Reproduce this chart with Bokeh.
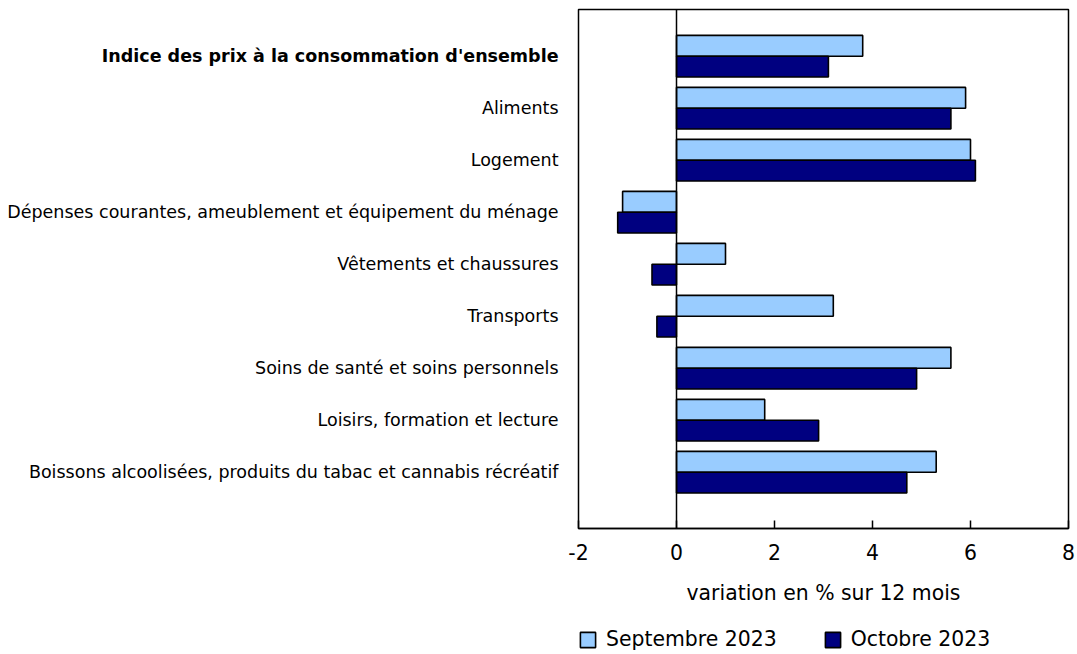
from bokeh.plotting import figure
from bokeh.models import (ColumnDataSource, Range1d, FixedTicker, Span, Legend)
from bokeh.layouts import row, column
from bokeh.transform import dodge
from bokeh.core.properties import value
from bokeh.embed import file_html
from bokeh.resources import INLINE

categories = [
    "Indice des prix à la consommation d'ensemble",
    "Aliments",
    "Logement",
    "Dépenses courantes, ameublement et équipement du ménage",
    "Vêtements et chaussures",
    "Transports",
    "Soins de santé et soins personnels",
    "Loisirs, formation et lecture",
    "Boissons alcoolisées, produits du tabac et cannabis récréatif",
]
label_styles = ["bold", "normal", "normal", "normal", "normal", "normal", "normal", "normal", "normal"]
septembre_2023 = [3.8, 5.9, 6.0, -1.1, 1.0, 3.2, 5.6, 1.8, 5.3]
octobre_2023 = [3.1, 5.6, 6.1, -1.2, -0.5, -0.4, 4.9, 2.9, 4.7]
x_ticks = [-2, 0, 2, 4, 6, 8]
series_names = ["Septembre 2023", "Octobre 2023"]
series_colors = ["#99CCFF", "#000080"]
x_title = "variation en % sur 12 mois"

FONT = "DejaVu Sans"
positions = list(range(len(categories)))
src = ColumnDataSource(dict(y=positions, cat=categories, style=label_styles,
                            sep=septembre_2023, oct=octobre_2023))

W, H = 1077, 654
H_MAIN = 615
LAB_W = 560          # width of the category label strip
FRAME_LEFT = 578     # x of the plot frame's left edge
TOP, RIGHT = 9, 9
BOTTOM = H_MAIN - TOP - 519
y_range = Range1d(len(categories) - 1 + 1.083, -0.898)


def bare(fig):
    fig.xgrid.visible = False
    fig.ygrid.visible = False
    fig.background_fill_color = "white"
    fig.border_fill_color = "white"


# ---- category label strip (left) ----
lab = figure(width=LAB_W, height=H_MAIN, x_range=Range1d(0, LAB_W), y_range=y_range,
             output_backend="svg", toolbar_location=None,
             x_axis_location=None, y_axis_location=None,
             min_border_left=0, min_border_right=0, min_border_top=TOP, min_border_bottom=BOTTOM)
bare(lab)
lab.outline_line_color = None
lab.text(x=value(FRAME_LEFT - 20), y="y", text="cat", source=src,
         text_align="right", text_baseline="middle",
         text_font=value(FONT), text_font_size=value("17.5px"),
         text_font_style="style", text_color="black")

# ---- main chart ----
p = figure(width=W - LAB_W, height=H_MAIN, x_range=Range1d(-2, 8), y_range=y_range,
           output_backend="svg", toolbar_location=None, y_axis_location=None,
           min_border_left=FRAME_LEFT - LAB_W, min_border_right=RIGHT,
           min_border_top=TOP, min_border_bottom=BOTTOM)
bare(p)
p.outline_line_color = "black"
p.outline_line_width = 1.5

bar_style = dict(height=0.4, line_color="black", line_width=1.6, source=src)
r1 = p.hbar(y=dodge("y", -0.2, range=y_range), left=0, right="sep",
            fill_color=series_colors[0], **bar_style)
r2 = p.hbar(y=dodge("y", 0.2, range=y_range), left=0, right="oct",
            fill_color=series_colors[1], **bar_style)

p.add_layout(Span(location=0, dimension="height", line_color="black", line_width=1.5))

xa = p.xaxis[0]
xa.ticker = FixedTicker(ticks=x_ticks)
xa.major_label_overrides = {t: str(t) for t in x_ticks}
xa.minor_tick_line_color = None
xa.major_tick_in = 8
xa.major_tick_out = 0
xa.major_tick_line_color = "black"
xa.major_tick_line_width = 1.5
xa.axis_line_color = "black"
xa.axis_line_width = 1.5
xa.major_label_text_font = FONT
xa.major_label_text_font_size = "20.4px"
xa.major_label_text_color = "black"
xa.major_label_standoff = 15
xa.axis_label = x_title
xa.axis_label_text_font = FONT
xa.axis_label_text_font_size = "20.4px"
xa.axis_label_text_font_style = "normal"
xa.axis_label_text_color = "black"
xa.axis_label_standoff = 18

# ---- legend strip (its bars lie far outside its visible ranges) ----
leg = figure(width=W, height=H - H_MAIN,
             x_range=Range1d(-100000, -100000 + W), y_range=Range1d(100000, 100000 + H - H_MAIN),
             output_backend="svg", toolbar_location=None,
             x_axis_location=None, y_axis_location=None,
             min_border_left=0, min_border_right=0, min_border_top=0, min_border_bottom=0)
bare(leg)
leg.outline_line_color = None
l1 = leg.hbar(y="y", left=0, right="sep", fill_color=series_colors[0], **bar_style)
l2 = leg.hbar(y="y", left=0, right="oct", fill_color=series_colors[1], **bar_style)
legend = Legend(items=[(series_names[0], [l1]), (series_names[1], [l2])],
                orientation="horizontal", location=(FRAME_LEFT, 3),
                glyph_width=19, glyph_height=19, label_standoff=9, spacing=46,
                padding=0, margin=0, border_line_alpha=0, background_fill_alpha=0,
                label_text_font=FONT, label_text_font_size="20.4px", label_text_color="black")
leg.add_layout(legend)

layout = column(row(lab, p, spacing=0), leg, spacing=0)
open("out.html", "w").write(file_html(layout, INLINE))
